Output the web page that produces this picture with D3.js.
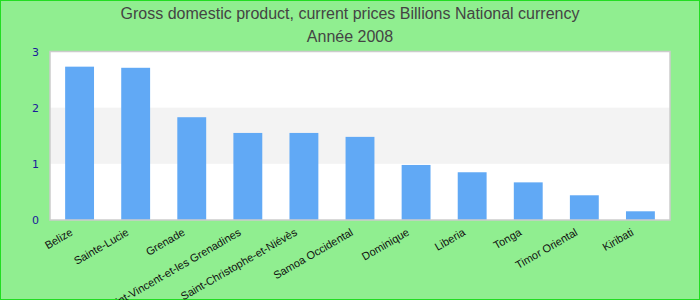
<!DOCTYPE html>
<html>
<head>
<meta charset="utf-8">
<script src="https://cdn.jsdelivr.net/npm/d3@7"></script>
<style>
  body { margin: 0; padding: 0; }
  svg { display: block; }
</style>
</head>
<body>
<svg class="chart" width="700" height="300"></svg>
<script>
// data
var countries = ["Belize", "Sainte-Lucie", "Grenade", "Saint-Vincent-et-les Grenadines",
  "Saint-Christophe-et-Niévès", "Samoa Occidental", "Dominique", "Liberia", "Tonga",
  "Timor Oriental", "Kiribati"];
var values = [2.73, 2.71, 1.83, 1.55, 1.55, 1.48, 0.98, 0.85, 0.67, 0.44, 0.155];
var yTicks = [0, 1, 2, 3];
var titleLines = ["Gross domestic product, current prices Billions National currency", "Année 2008"];

var svg = d3.select("svg.chart"),
  width = 700, height = 300,
  margin = {top: 51.5, right: 30, bottom: 80, left: 50};
var w = width - margin.left - margin.right,
  h = height - margin.top - margin.bottom;

// page background + outer border
svg.append("rect")
  .attr("x", 0.5).attr("y", 0.5)
  .attr("width", width - 1).attr("height", height - 1)
  .attr("fill", "#90ee90")
  .attr("stroke", "#22dd22");

svg.selectAll("text.title")
  .data(titleLines)
  .enter().append("text")
  .attr("class", "title")
  .attr("x", width / 2)
  .attr("y", function(d, i) { return 18.5 + i * 23; })
  .attr("text-anchor", "middle")
  .attr("font-family", "Liberation Sans, Arial, sans-serif")
  .attr("font-size", 16)
  .attr("fill", "#444")
  .text(function(d) { return d; });

var g = svg.append("g").attr("transform", "translate(" + margin.left + "," + margin.top + ")");

var x = d3.scaleBand()
  .domain(countries)
  .range([0, w])
  .paddingInner(0.485)
  .paddingOuter(0.27);
var y = d3.scaleLinear()
  .domain([0, 3])
  .range([h, 0]);

// plot background and alternating band
g.append("rect")
  .attr("width", w).attr("height", h)
  .attr("fill", "#fff");
g.append("rect")
  .attr("x", 0).attr("y", y(2))
  .attr("width", w).attr("height", y(1) - y(2))
  .attr("fill", "#f3f3f3");

g.selectAll("rect.bar")
  .data(values)
  .enter().append("rect")
  .attr("class", "bar")
  .attr("x", function(d, i) { return x(countries[i]); })
  .attr("y", function(d) { return y(d); })
  .attr("width", x.bandwidth())
  .attr("height", function(d) { return h - y(d); })
  .attr("fill", "#61a9f5");

// frame
g.append("rect")
  .attr("width", w).attr("height", h)
  .attr("fill", "none")
  .attr("stroke", "#cccccc")
  .attr("stroke-width", 1.5);

// y axis labels
var yAxis = g.append("g")
  .call(d3.axisLeft(y).tickValues(yTicks).tickSize(0).tickPadding(11).tickFormat(d3.format("d")));
yAxis.select(".domain").remove();
yAxis.selectAll("text")
  .attr("font-family", "DejaVu Sans, sans-serif")
  .attr("font-size", 11)
  .attr("fill", "#1a1a9a");

// x labels, rotated
var xAxis = g.append("g")
  .attr("transform", "translate(0," + h + ")")
  .call(d3.axisBottom(x).tickSize(0).tickPadding(0));
xAxis.select(".domain").remove();
xAxis.selectAll("text")
  .attr("font-family", "Liberation Sans, Arial, sans-serif")
  .attr("font-size", 11)
  .attr("fill", "#111")
  .attr("text-anchor", "end")
  .attr("dy", null)
  .attr("transform", "translate(-6,14.5) rotate(-30)");
</script>
</body>
</html>
